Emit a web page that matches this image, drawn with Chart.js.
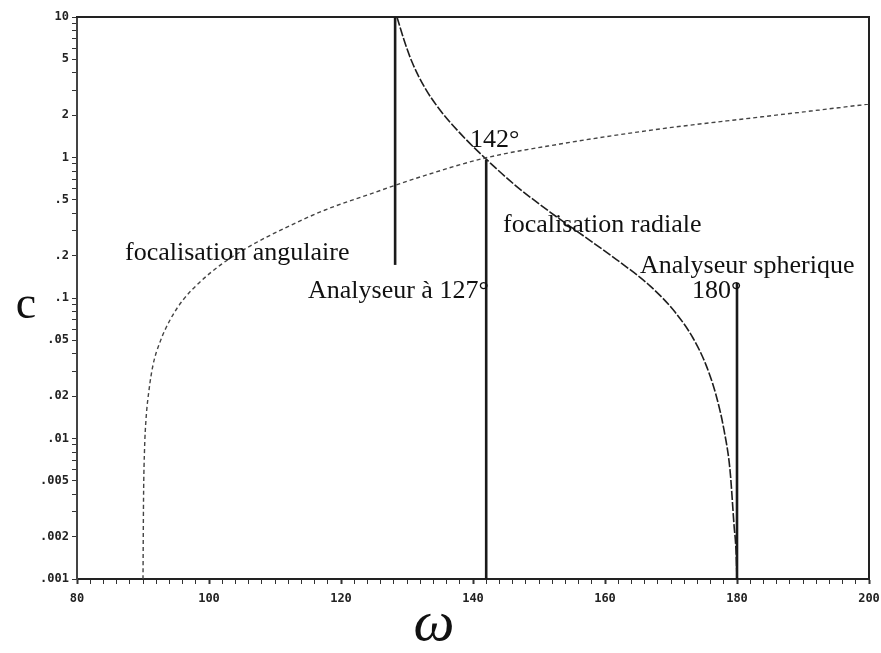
<!DOCTYPE html>
<html>
<head>
<meta charset="utf-8">
<script src="https://cdn.jsdelivr.net/npm/chart.js@4/dist/chart.umd.min.js"></script>
<style>
    html, body { margin: 0; padding: 0; background: #fff; }
    canvas { display: block; }
</style>
</head>
<body>
<canvas id="chart" width="881" height="653"></canvas>
<script>
// focalisation angulaire (rising curve)
const angularOmega = [90.0, 90.08, 90.23, 90.45, 90.91, 91.52, 92.58, 94.09, 96.06, 98.64, 101.97, 106.21, 111.52, 117.58, 124.39, 131.97, 141.82, 153.18, 168.33, 183.48, 200];
const angularC = [0.001, 0.00365, 0.00828, 0.01355, 0.0221, 0.0334, 0.0486, 0.0697, 0.0968, 0.130, 0.175, 0.234, 0.315, 0.423, 0.549, 0.726, 0.991, 1.247, 1.596, 1.94, 2.40];

// focalisation radiale (falling curve)
const radialOmega = [128.48, 129.55, 130.76, 132.73, 135.0, 138.03, 141.82, 146.36, 151.67, 156.97, 162.27, 166.82, 170.61, 173.33, 175.30, 176.82, 178.03, 178.94, 179.55, 179.85, 180.0];
const radialC = [10, 6.86, 4.78, 3.12, 2.18, 1.49, 0.991, 0.637, 0.409, 0.272, 0.180, 0.122, 0.0794, 0.0519, 0.0334, 0.0204, 0.0115, 0.00597, 0.00242, 0.0016, 0.001];

// vertical analyser lines
const analyserOmega = [128.2, 142, 180];
const analyserLow = [0.172, 0.001, 0.001];
const analyserHigh = [10, 0.96, 0.128];

// tick values
const xMin = 80, xMax = 200, xStep = 2, xLabelStep = 20;
const yMin = 0.001, yMax = 10;
const yLabelMantissas = [1, 2, 5];

// text written inside the plot, anchored at (omega, c), left / baseline
const noteTexts = ["142°", "focalisation angulaire", "Analyseur à 127°", "focalisation radiale", "Analyseur spherique", "180°"];
const noteOmega = [139.55, 87.27, 115.0, 144.55, 165.3, 173.2];
const noteC = [1.19, 0.186, 0.1, 0.295, 0.151, 0.1];

const pts = (xs, ys) => xs.map((x, i) => ({ x, y: ys[i] }));

const curveStyle = {
    showLine: true,
    pointRadius: 0,
    fill: false,
    cubicInterpolationMode: "monotone",
};

const datasets = [
    {
        ...curveStyle,
        label: "focalisation angulaire",
        data: pts(angularOmega, angularC),
        borderColor: "#444",
        borderWidth: 1.4,
        borderDash: [4, 3],
    },
    {
        ...curveStyle,
        label: "focalisation radiale",
        data: pts(radialOmega, radialC),
        borderColor: "#1e1e1e",
        borderWidth: 1.6,
        borderDash: [9, 2],
    },
    ...analyserOmega.map((w, i) => ({
        label: "analyseur " + w,
        showLine: true,
        pointRadius: 0,
        data: [{ x: w, y: analyserLow[i] }, { x: w, y: analyserHigh[i] }],
        borderColor: "#1a1a1a",
        borderWidth: 2.6,
    })),
];

const tickFont = { family: "'DejaVu Sans Mono', monospace", size: 12, weight: "bold" };

const notesPlugin = {
    id: "notes",
    afterDatasetsDraw(chart) {
        const { ctx, scales, chartArea } = chart;
        ctx.save();
        ctx.fillStyle = "#111";
        ctx.textAlign = "left";
        ctx.textBaseline = "alphabetic";
        ctx.font = "26px 'Liberation Serif', serif";
        noteTexts.forEach((t, i) => {
            ctx.fillText(t, scales.x.getPixelForValue(noteOmega[i]), scales.y.getPixelForValue(noteC[i]));
        });
        // axis names
        ctx.textAlign = "center";
        ctx.font = "46px 'Liberation Serif', serif";
        ctx.fillText("c", 26, (chartArea.top + chartArea.bottom) / 2 + 20);
        ctx.font = "italic 58px 'Liberation Serif', serif";
        ctx.fillText("ω", 434, 640);
        ctx.restore();
    },
};

new Chart(document.getElementById("chart"), {
    type: "scatter",
    data: { datasets },
    options: {
        responsive: false,
        animation: false,
        layout: { padding: { top: 17, right: 12, left: 0, bottom: 0 } },
        plugins: { legend: { display: false }, tooltip: { enabled: false } },
        scales: {
            x: {
                type: "linear",
                min: xMin,
                max: xMax,
                afterFit: (s) => {
                    s.height = 74;
                    // let the last label run past the frame, as in the scan
                    s.paddingLeft = 0;
                    s.paddingRight = 0;
                },
                ticks: {
                    stepSize: xStep,
                    autoSkip: false,
                    maxRotation: 0,
                    padding: 8,
                    color: "#222",
                    font: tickFont,
                    callback: (v) => (v % xLabelStep === 0 ? String(v) : ""),
                },
                grid: {
                    drawOnChartArea: false,
                    tickLength: 5,
                    tickColor: "#333",
                    tickWidth: (c) => (c.tick && c.tick.value % xLabelStep === 0 ? 2 : 1),
                },
                border: { color: "#222", width: 2 },
            },
            y: {
                type: "logarithmic",
                min: yMin,
                max: yMax,
                afterFit: (s) => { s.width = 77; },
                afterBuildTicks: (s) => {
                    const ticks = [];
                    for (let e = -3; e <= 1; e++) {
                        for (let m = 1; m <= 9; m++) {
                            const v = +(m * Math.pow(10, e)).toPrecision(3);
                            if (v >= yMin && v <= yMax) ticks.push({ value: v });
                        }
                    }
                    s.ticks = ticks;
                },
                ticks: {
                    autoSkip: false,
                    padding: 3,
                    color: "#222",
                    font: tickFont,
                    callback: (v) => {
                        const m = +(v / Math.pow(10, Math.floor(Math.log10(v) + 1e-9))).toPrecision(3);
                        if (!yLabelMantissas.includes(m)) return "";
                        return String(v).replace(/^0\./, ".");
                    },
                },
                grid: {
                    drawOnChartArea: false,
                    tickLength: 5,
                    tickColor: "#333",
                },
                border: { color: "#444", width: 2 },
            },
            xTop: {
                type: "linear",
                position: "top",
                min: 0,
                max: 1,
                afterFit: (s) => { s.height = 0; },
                ticks: { display: false },
                grid: { drawOnChartArea: false, drawTicks: false },
                border: { color: "#222", width: 2, dash: [6, 2] },
            },
            yRight: {
                type: "linear",
                position: "right",
                min: 0,
                max: 1,
                afterFit: (s) => { s.width = 0; },
                ticks: { display: false },
                grid: { drawOnChartArea: false, drawTicks: false },
                border: { color: "#222", width: 2, dash: [7, 2] },
            },
        },
    },
    plugins: [notesPlugin],
});
</script>
</body>
</html>
